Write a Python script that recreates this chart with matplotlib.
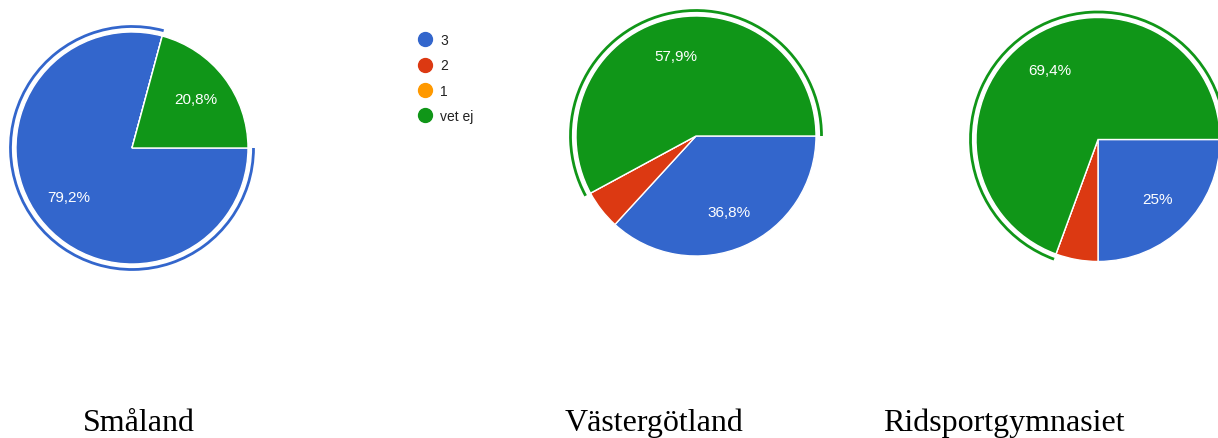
import matplotlib
matplotlib.use("Agg")
import matplotlib.pyplot as plt
from matplotlib.patches import Arc
from matplotlib.lines import Line2D

categories = ["3", "2", "1", "vet ej"]
colors = ["#3366cc", "#dc3912", "#ff9900", "#109618"]

regions = ["Småland", "Västergötland", "Ridsportgymnasiet"]
smaland = [79.2, 0, 0, 20.8]
vastergotland = [36.8, 5.3, 0, 57.9]
ridsport = [25.0, 5.6, 0, 69.4]

W, H = 1218, 439
fig = plt.figure(figsize=(W / 100, H / 100), dpi=100)
ax = fig.add_axes([0, 0, 1, 1])


def pct_label(p):
    if p < 8:
        return ""
    s = f"{p:.1f}".replace(".", ",")
    if s.endswith(",0"):
        s = s[:-2]
    return s + "%"


def draw_pie(values, cx, cy, r):
    # pixel coords (y from top) -> data coords
    center = (cx, H - cy)
    wedges, texts, autotexts = ax.pie(
        values, colors=colors, startangle=0, counterclock=False,
        center=center, radius=r, frame=True, autopct=pct_label,
        pctdistance=0.69,
        wedgeprops=dict(edgecolor="white", linewidth=1),
        textprops=dict(color="white", fontsize=11, family="Liberation Sans"))
    # ring around the biggest slice
    big = values.index(max(values))
    w = wedges[big]
    ring = Arc(center, 2 * (r + 5.5), 2 * (r + 5.5), theta1=w.theta1,
               theta2=w.theta2, color=colors[big], lw=2.0)
    ax.add_patch(ring)


draw_pie(smaland, 132, 149, 116)
draw_pie(vastergotland, 696, 137, 120)
draw_pie(ridsport, 1098, 140.5, 122)

ax.set_xlim(0, W)
ax.set_ylim(0, H)
ax.set_aspect("auto")
ax.axis("off")

handles = [Line2D([], [], marker="o", ls="", color=c, markersize=10)
           for c in colors]
ax.legend(handles, categories, loc="upper left",
          bbox_to_anchor=(418 / W, 1 - 34 / H), bbox_transform=fig.transFigure,
          frameon=False, borderpad=0, borderaxespad=0, handlelength=1.0,
          handletextpad=0.6, labelspacing=0.82,
          prop=dict(family="Liberation Sans", size=10), labelcolor="#222222")

for name, x in zip(regions, [83, 565, 883]):
    fig.text(x / W, 1 - 431 / H, name, ha="left", va="baseline",
             fontsize=23, family="Liberation Serif", color="black")

fig.savefig("out.png", dpi=100)
